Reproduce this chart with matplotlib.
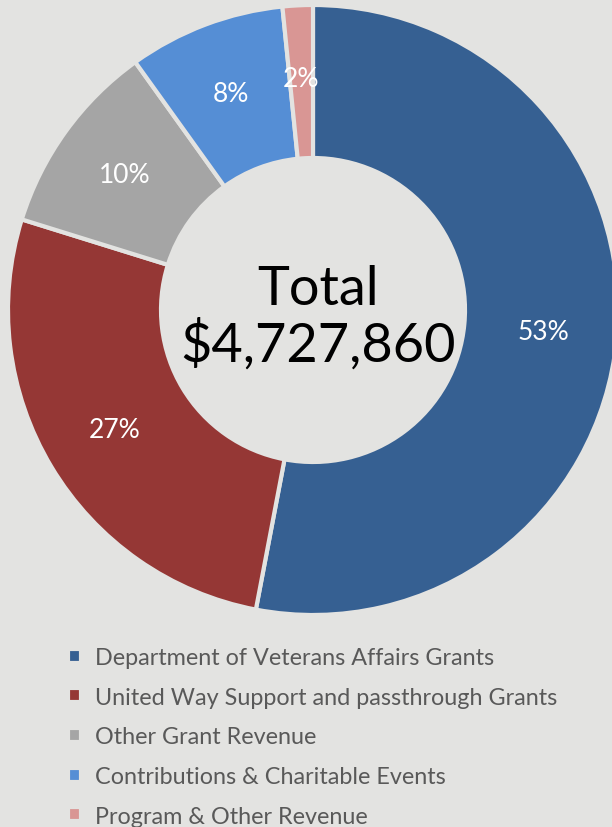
import matplotlib.pyplot as plt

categories = ['Department of Veterans Affairs Grants',
              'United Way Support and passthrough Grants',
              'Other Grant Revenue',
              'Contributions & Charitable Events',
              'Program & Other Revenue']
shares = [53.0, 26.8, 10.3, 8.3, 1.6]
colors = ['#366092', '#953735', '#a5a5a5', '#558ed5', '#d99694']
total_label = 'Total\n$4,727,860'

BG = '#e3e3e1'
plt.rcParams['font.family'] = ['Lato', 'DejaVu Sans']


def main():
    fig = plt.figure(figsize=(6.12, 8.28), dpi=100, facecolor=BG)
    ax = fig.add_axes([0, 0, 1, 1])
    ax.set_facecolor(BG)

    wedges, texts, pcts = ax.pie(
        shares, colors=colors, center=(313, 828 - 311), radius=305,
        startangle=90, counterclock=False, autopct='%.0f%%', pctdistance=0.76,
        wedgeprops=dict(width=153, edgecolor=BG, linewidth=3),
        textprops=dict(color='white', fontsize=19))
    ax.set_xlim(0, 612)
    ax.set_ylim(0, 828)
    ax.set_aspect('equal')
    ax.axis('off')

    ax.text(318, 828 - 318, total_label, ha='center', va='center',
            fontsize=39, color='black', linespacing=1.1)

    ax.legend(wedges, categories, loc='upper left',
              bbox_to_anchor=(47 / 612, 1 - 627 / 828),
              frameon=False, fontsize=16.8, labelcolor='#595959',
              handlelength=0.55, handleheight=0.55, handletextpad=0.6,
              labelspacing=0.8)

    fig.savefig('out.png', dpi=100, facecolor=BG)


if __name__ == "__main__":
    main()
